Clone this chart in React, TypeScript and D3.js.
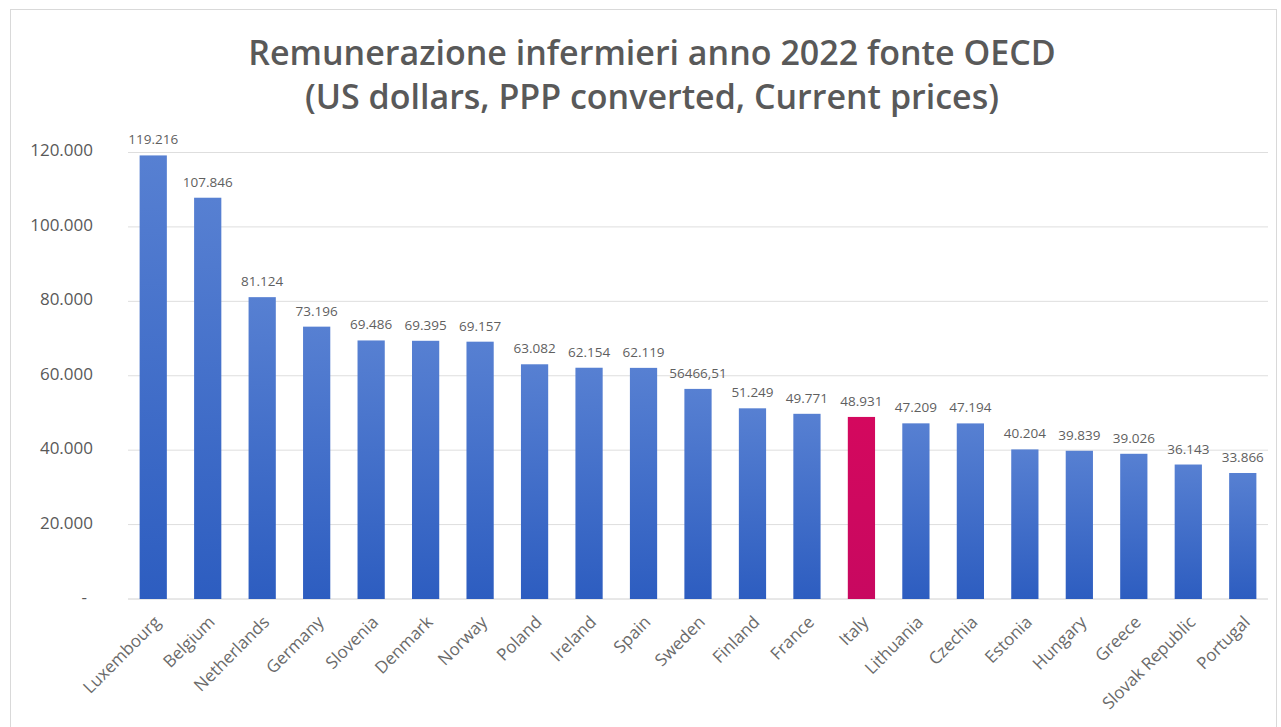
import React from "react";
import * as d3 from "d3";

const countries = ["Luxembourg","Belgium","Netherlands","Germany","Slovenia","Denmark","Norway","Poland","Ireland","Spain","Sweden","Finland","France","Italy","Lithuania","Czechia","Estonia","Hungary","Greece","Slovak Republic","Portugal"];
const salaries = [119216,107846,81124,73196,69486,69395,69157,63082,62154,62119,56466.51,51249,49771,48931,47209,47194,40204,39839,39026,36143,33866];
const yTicks = [0,20000,40000,60000,80000,100000,120000];
const highlight = "Italy";
const titleLines = ["Remunerazione infermieri anno 2022 fonte OECD","(US dollars, PPP converted, Current prices)"];

const W = 1281, H = 727;
const locale = d3.formatLocale({ decimal: ",", thousands: ".", grouping: [3], currency: ["", ""] });
const fmtInt = locale.format(",d");
const fmtDec = locale.format(".2f");
const fmtVal = (v: number) => (Number.isInteger(v) ? fmtInt(v) : fmtDec(v));
const fmtTick = (v: number) => (v === 0 ? "-" : fmtInt(v));

export default function App() {
  const x = d3.scaleBand<string>().domain(countries).range([126, 1270]).paddingInner(0.5).paddingOuter(0.25);
  const y = d3.scaleLinear().domain([0, 120000]).range([599, 152.5]);
  const font = "'Open Sans', 'Liberation Sans', sans-serif";
  return (
    <svg width={W} height={H} style={{ position: "fixed", left: 0, top: 0, background: "#fff" }}>
      <defs>
        <linearGradient id="blueGrad" x1="0" y1="0" x2="0" y2="1">
          <stop offset="0%" stopColor="#5780d2" />
          <stop offset="100%" stopColor="#2d5dc0" />
        </linearGradient>
        <linearGradient id="redGrad" x1="0" y1="0" x2="0" y2="1">
          <stop offset="0%" stopColor="#d4085e" />
          <stop offset="100%" stopColor="#c80860" />
        </linearGradient>
      </defs>
      <rect x={10.5} y={9.5} width={1266} height={730} fill="#fff" stroke="#d9d9d9" strokeWidth={1} />
      {titleLines.map((t, i) => (
        <text key={i} x={652} y={65 + i * 44} textAnchor="middle" fontFamily={font} fontWeight={600} fontSize={34} fill="#595959">{t}</text>
      ))}
      {yTicks.map((t) => (
        <g key={t}>
          <line x1={128} x2={1268} y1={y(t)} y2={y(t)} stroke={t === 0 ? "#d0d0d0" : "#dedede"} strokeWidth={1} />
          <text x={t === 0 ? 87 : 93} y={y(t) - 2} dy="0.35em" textAnchor="end" fontFamily={font} fontSize={17} fill="#595959">{fmtTick(t)}</text>
        </g>
      ))}
      {countries.map((c, i) => {
        const v = salaries[i];
        const bx = x(c)!;
        const bw = x.bandwidth();
        const cx = bx + bw / 2;
        return (
          <g key={c}>
            <rect x={bx} y={y(v)} width={bw} height={y(0) - y(v)} fill={c === highlight ? "url(#redGrad)" : "url(#blueGrad)"} />
            <text x={cx} y={y(v) - 11} textAnchor="middle" fontFamily={font} fontSize={13.5} fill="#5f5f5f">{fmtVal(v)}</text>
            <text transform={`translate(${cx + 4},${619}) rotate(-45)`} textAnchor="end" dy="0.35em" fontFamily={font} fontSize={17} fill="#6a6a6a">{c}</text>
          </g>
        );
      })}
    </svg>
  );
}
